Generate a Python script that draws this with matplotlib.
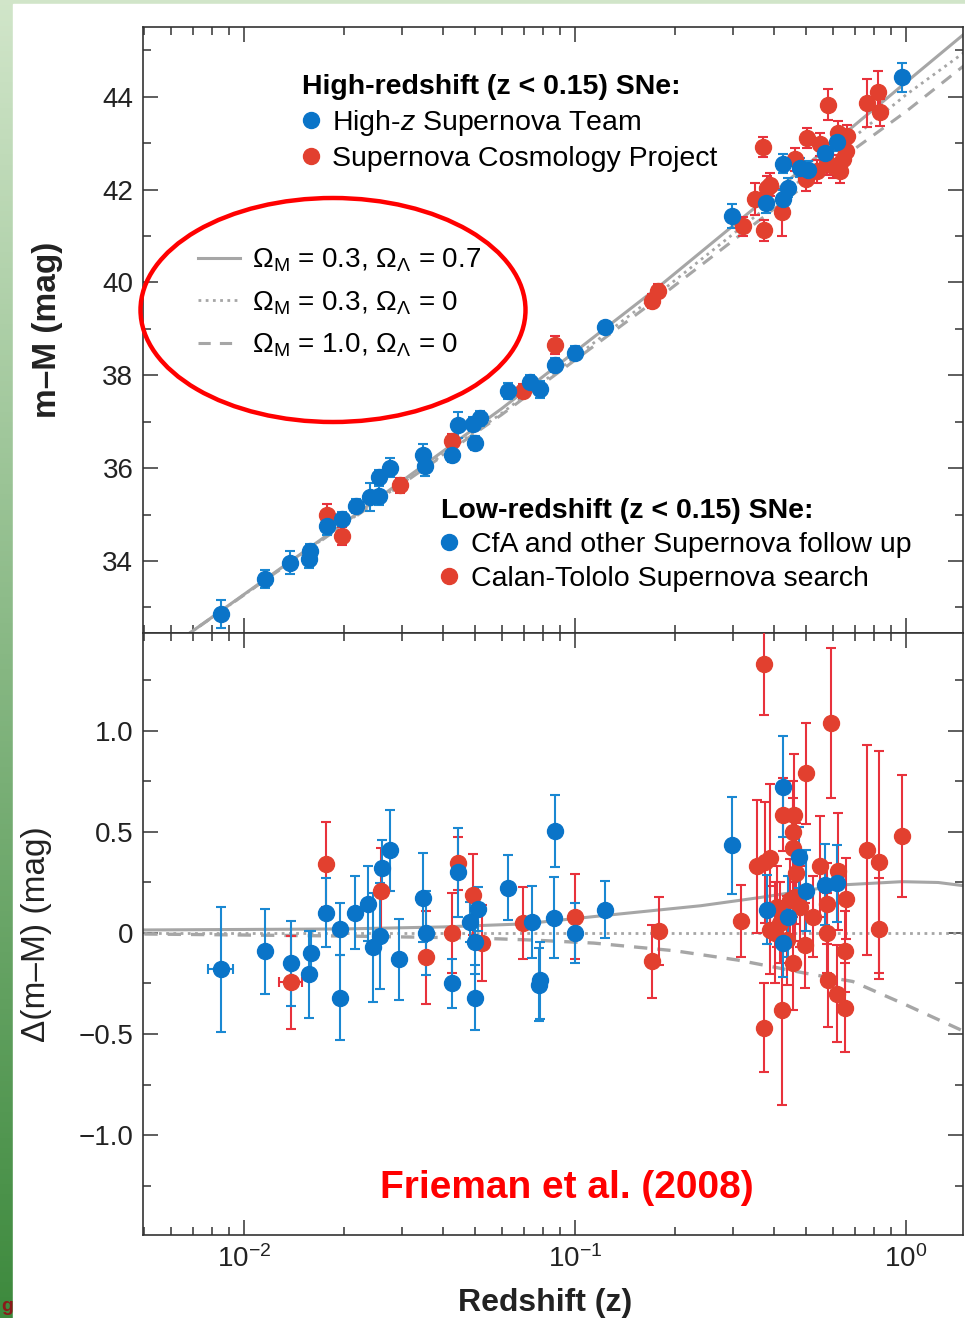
import numpy as np
import matplotlib
matplotlib.use('Agg')
import matplotlib.pyplot as plt
from matplotlib.lines import Line2D
from matplotlib.patches import Ellipse, Rectangle
from matplotlib.ticker import MultipleLocator

plt.rcParams['font.family'] = ['Liberation Sans', 'DejaVu Sans']
plt.rcParams['mathtext.fontset'] = 'custom'
plt.rcParams['mathtext.rm'] = 'Liberation Sans'
plt.rcParams['mathtext.it'] = 'Liberation Sans:italic'
plt.rcParams['mathtext.bf'] = 'Liberation Sans:bold'

# ---- model curves, top panel (distance modulus) ----
model_z = [0.0065, 0.02, 0.06, 0.18, 0.5, 1.0, 1.51]
mu_lcdm = [32.33, 34.81, 37.28, 39.92, 42.52, 44.31, 45.37]
mu_open = [32.33, 34.79, 37.18, 39.78, 42.30, 44.04, 44.97]
mu_eds = [32.33, 34.78, 37.15, 39.68, 42.12, 43.68, 44.69]

# ---- model curves, bottom panel (residual vs open model) ----
res_z_lcdm = [0.005, 0.02, 0.04, 0.07, 0.12, 0.24, 0.36, 0.64, 0.97, 1.25, 1.51]
res_lcdm = [0.015, 0.02, 0.03, 0.045, 0.085, 0.135, 0.175, 0.238, 0.254, 0.25, 0.233]
res_z_open = [0.005, 1.51]
res_open = [0.0, 0.0]
res_z_eds = [0.005, 0.02, 0.05, 0.0745, 0.114, 0.2, 0.31, 0.5, 0.69, 1.0, 1.51]
res_eds = [-0.005, -0.015, -0.025, -0.035, -0.05, -0.088, -0.134, -0.2, -0.24, -0.356, -0.49]

# ---- top panel data: m-M ----
cfa_z = [0.00852, 0.0116, 0.01378, 0.0158, 0.0157, 0.0178, 0.01972, 0.02179, 0.02402,
         0.02566, 0.02566, 0.02752, 0.03467, 0.03525, 0.04242, 0.0444, 0.0499, 0.0493,
         0.0515, 0.0629, 0.0732, 0.0784, 0.087, 0.1, 0.123]
cfa_mu = [32.86, 33.61, 33.96, 34.22, 34.04, 34.76, 34.90, 35.19, 35.37,
          35.41, 35.80, 36.01, 36.28, 36.05, 36.28, 36.92, 36.54, 36.95,
          37.07, 37.66, 37.85, 37.70, 38.22, 38.49, 39.03]
cfa_err = [0.30, 0.20, 0.25, 0.15, 0.20, 0.20, 0.15, 0.15, 0.30,
           0.20, 0.15, 0.20, 0.23, 0.22, 0.15, 0.28, 0.15, 0.15,
           0.16, 0.18, 0.15, 0.18, 0.15, 0.15, 0.12]

ct_z = [0.0178, 0.01972, 0.0295, 0.04242, 0.0695, 0.087]
ct_mu = [34.99, 34.54, 35.63, 36.59, 37.66, 38.65]
ct_err = [0.23, 0.20, 0.16, 0.15, 0.15, 0.20]

hzt_z = [0.2987, 0.3776, 0.4237, 0.441, 0.426, 0.479, 0.5072, 0.569, 0.617, 0.971]
hzt_mu = [41.43, 41.70, 41.79, 42.04, 42.56, 42.47, 42.42, 42.79, 43.02, 44.42]
hzt_err = [0.25, 0.20, 0.20, 0.20, 0.20, 0.20, 0.20, 0.20, 0.20, 0.31]

scp_z = [0.171, 0.178, 0.322, 0.3723, 0.37, 0.3489, 0.3795, 0.389, 0.4233, 0.463,
         0.4984, 0.5034, 0.55, 0.6, 0.643, 0.658, 0.6247, 0.665, 0.576, 0.5367,
         0.6319, 0.5826, 0.7609, 0.825, 0.835]
scp_mu = [39.59, 39.81, 41.21, 41.12, 42.91, 41.79, 42.04, 42.10, 41.51, 42.65,
          42.22, 43.11, 42.97, 42.50, 42.65, 42.82, 43.22, 43.15, 42.57, 42.39,
          42.39, 43.83, 43.86, 44.09, 43.66]
scp_err = [0.15, 0.15, 0.20, 0.23, 0.22, 0.34, 0.25, 0.25, 0.50, 0.25,
           0.25, 0.22, 0.25, 0.25, 0.25, 0.25, 0.25, 0.25, 0.25, 0.25,
           0.25, 0.34, 0.52, 0.47, 0.30]

# ---- bottom panel data: delta(m-M) ----
cfa_z2 = [0.00854, 0.01155, 0.01384, 0.01597, 0.01569, 0.01765, 0.01946, 0.01946,
          0.02164, 0.02374, 0.02448, 0.02606, 0.02761, 0.02576, 0.02946, 0.03482,
          0.0354, 0.04242, 0.04441, 0.05103, 0.04817, 0.04988, 0.04988, 0.06287,
          0.07398, 0.0784, 0.078, 0.087, 0.0864, 0.1, 0.1232]
cfa_d = [-0.18, -0.09, -0.15, -0.10, -0.205, 0.10, 0.02, -0.32,
         0.10, 0.145, -0.07, 0.32, 0.41, -0.015, -0.13, 0.175,
         0.0, -0.25, 0.30, 0.12, 0.055, -0.045, -0.32, 0.225,
         0.055, -0.235, -0.255, 0.505, 0.075, 0.0, 0.115]
cfa_derr = [0.31, 0.21, 0.21, 0.11, 0.215, 0.17, 0.13, 0.21,
            0.18, 0.185, 0.27, 0.14, 0.20, 0.26, 0.20, 0.22,
            0.21, 0.12, 0.22, 0.11, 0.10, 0.16, 0.16, 0.16,
            0.18, 0.19, 0.18, 0.18, 0.20, 0.15, 0.14]
cfa_zerr = [0.00074] + [0.0] * 30

ct_z2 = [0.01384, 0.01765, 0.02588, 0.0354, 0.04242, 0.04423, 0.04928, 0.05225, 0.0695, 0.1]
ct_d = [-0.245, 0.34, 0.21, -0.12, 0.0, 0.345, 0.19, -0.05, 0.05, 0.08]
ct_derr = [0.23, 0.21, 0.21, 0.23, 0.20, 0.13, 0.20, 0.19, 0.18, 0.21]
ct_zerr = [0.0011] + [0.0] * 9

hzt_z2 = [0.2974, 0.4259, 0.3795, 0.441, 0.4242, 0.475, 0.4989, 0.5692, 0.6174]
hzt_d = [0.435, 0.725, 0.115, 0.08, -0.05, 0.375, 0.21, 0.24, 0.245]
hzt_derr = [0.24, 0.25, 0.17, 0.20, 0.17, 0.15, 0.20, 0.20, 0.19]

scp_z2 = [0.1712, 0.1798, 0.3724, 0.5934, 0.4989, 0.4259, 0.4598, 0.4566, 0.4547, 0.3539,
          0.3881, 0.375, 0.3166, 0.3724, 0.423, 0.4644, 0.5498, 0.4547, 0.4954, 0.5249,
          0.576, 0.576, 0.5826, 0.6174, 0.6244, 0.6573, 0.6541, 0.6541, 0.7609, 0.8289,
          0.8289, 0.9745, 0.4067, 0.3881, 0.4162, 0.4462, 0.4785, 0.4621, 0.402, 0.436]
scp_d = [-0.14, 0.01, 1.33, 1.04, 0.79, 0.585, 0.585, 0.50, 0.42, 0.33,
         0.37, 0.35, 0.06, -0.47, -0.38, 0.295, 0.33, -0.15, -0.06, 0.08,
         0.0, 0.145, -0.235, -0.30, 0.305, 0.17, -0.09, -0.37, 0.41, 0.35,
         0.02, 0.48, 0.13, 0.015, 0.05, 0.165, 0.13, 0.18, 0.0, -0.035]
scp_derr = [0.18, 0.17, 0.25, 0.37, 0.25, 0.18, 0.30, 0.25, 0.25, 0.33,
            0.37, 0.30, 0.18, 0.22, 0.47, 0.25, 0.25, 0.23, 0.21, 0.20,
            0.20, 0.20, 0.23, 0.24, 0.29, 0.20, 0.20, 0.22, 0.52, 0.55,
            0.25, 0.30, 0.20, 0.22, 0.20, 0.20, 0.20, 0.22, 0.25, 0.22]

BLUE, BLUE_E = '#0a74c8', '#1a88d2'
RED, RED_E = '#e2402f', '#e8323c'
GRAY = '#a6a6a6'

fig = plt.figure(figsize=(9.65, 13.18), dpi=100)

# green slide background with white page
bg = fig.add_axes([0, 0, 1, 1], zorder=-10)
bg.axis('off')
t = np.linspace(0, 1, 256)[:, None]
top_c = np.array([0.82, 0.90, 0.79])
bot_c = np.array([0.24, 0.54, 0.24])
grad = (top_c * (1 - t) + bot_c * t)[:, None, :].repeat(2, axis=1)
bg.imshow(grad, aspect='auto', extent=[0, 1, 0, 1], origin='upper')
bg.add_patch(Rectangle((13 / 965, 0), 1, 1 - 4 / 1318, color='white', transform=bg.transAxes))
bg.set_xlim(0, 1)
bg.set_ylim(0, 1)

left, width = 143 / 965, 820 / 965
ax1 = fig.add_axes([left, 1 - 633 / 1318, width, 606 / 1318])
ax2 = fig.add_axes([left, 1 - 1235 / 1318, width, 602 / 1318], sharex=ax1)


def sne(ax, z, y, err, color, ecolor, zerr=None):
    ax.errorbar(z, y, yerr=err, xerr=zerr, fmt='o', ms=11.5, color=color, mec=color,
                ecolor=ecolor, elinewidth=1.5, capsize=3.6, capthick=1.5, zorder=3)


# top panel
l1, = ax1.plot(model_z, mu_lcdm, color=GRAY, lw=2.2, zorder=2)
l2, = ax1.plot(model_z, mu_open, color=GRAY, lw=2.0, ls=(0, (1.0, 1.6)), zorder=2)
l3, = ax1.plot(model_z, mu_eds, color=GRAY, lw=2.2, ls=(0, (4, 3)), zorder=2)
sne(ax1, ct_z, ct_mu, ct_err, RED, RED_E)
sne(ax1, scp_z, scp_mu, scp_err, RED, RED_E)
sne(ax1, cfa_z, cfa_mu, cfa_err, BLUE, BLUE_E)
sne(ax1, hzt_z, hzt_mu, hzt_err, BLUE, BLUE_E)

# bottom panel
ax2.plot(res_z_lcdm, res_lcdm, color=GRAY, lw=2.2, zorder=2)
ax2.plot(res_z_open, res_open, color=GRAY, lw=2.0, ls=(0, (1.0, 1.6)), zorder=2)
ax2.plot(res_z_eds, res_eds, color=GRAY, lw=2.4, ls=(0, (4, 3)), zorder=2)
sne(ax2, ct_z2, ct_d, ct_derr, RED, RED_E, ct_zerr)
sne(ax2, scp_z2, scp_d, scp_derr, RED, RED_E)
sne(ax2, cfa_z2, cfa_d, cfa_derr, BLUE, BLUE_E, cfa_zerr)
sne(ax2, hzt_z2, hzt_d, hzt_derr, BLUE, BLUE_E)

ax1.set_xscale('log')
ax1.set_xlim(0.004954, 1.486)
ax1.set_ylim(32.45, 45.5)
ax2.set_ylim(-1.495, 1.485)

ax1.set_yticks([34, 36, 38, 40, 42, 44])
ax1.yaxis.set_minor_locator(MultipleLocator(1))
ax2.set_yticks([-1.0, -0.5, 0, 0.5, 1.0], ['\u22121.0', '\u22120.5', '0', '0.5', '1.0'])
ax2.yaxis.set_minor_locator(MultipleLocator(0.25))

for ax in (ax1, ax2):
    ax.tick_params(which='both', direction='in', top=True, right=True,
                   width=1.1, color='#333333', labelsize=20, labelcolor='#222222', pad=7)
    ax.tick_params(which='major', length=11)
    ax.tick_params(which='minor', length=6)
    for s in ax.spines.values():
        s.set_color('#333333')
        s.set_linewidth(1.2)
ax1.tick_params(labelbottom=False)

ax1.set_ylabel('m\u2013M (mag)', fontsize=24, fontweight='bold', color='#222222')
ax1.yaxis.set_label_coords(-0.097, 0.5)
ax2.set_ylabel('\u0394(m\u2013M) (mag)', fontsize=24, color='#222222')
ax2.yaxis.set_label_coords(-0.111, 0.5)
ax2.set_xlabel('Redshift (z)', fontsize=23, fontweight='bold', color='#222222')
ax2.xaxis.set_label_coords(0.49, -0.088)

# legends
dot_b = Line2D([], [], marker='o', ls='none', ms=11.5, color=BLUE)
dot_r = Line2D([], [], marker='o', ls='none', ms=11.5, color=RED)
common = dict(loc='upper left', frameon=False, fontsize=20.5, borderpad=0, borderaxespad=0,
              handlelength=0.6, handletextpad=0.45, labelspacing=0.27, alignment='left',
              title_fontproperties={'weight': 'bold', 'size': 20.5})
leg1 = ax1.legend([dot_b, dot_r], ['High-$z$ Supernova Team', 'Supernova Cosmology Project'],
                  title='High-redshift (z < 0.15) SNe:', bbox_to_anchor=(0.194, 0.922), **common)
ax1.add_artist(leg1)
leg2 = ax1.legend([dot_b, dot_r], ['CfA and other Supernova follow up', 'Calan-Tololo Supernova search'],
                  title='Low-redshift (z < 0.15) SNe:', bbox_to_anchor=(0.363, 0.222), **common)
ax1.add_artist(leg2)
ax1.legend([l1, l2, l3],
           [r'$\Omega_{\rm M}$ = 0.3, $\Omega_\Lambda$ = 0.7',
            r'$\Omega_{\rm M}$ = 0.3, $\Omega_\Lambda$ = 0',
            r'$\Omega_{\rm M}$ = 1.0, $\Omega_\Lambda$ = 0'],
           loc='upper left', frameon=False, fontsize=20, borderpad=0, borderaxespad=0,
           handlelength=1.5, handletextpad=0.43, labelspacing=0.53,
           bbox_to_anchor=(0.067, 0.637))

ax2.text(0.517, 0.078, 'Frieman et al. (2008)', transform=ax2.transAxes, color='#ff0000',
         fontsize=28, fontweight='bold', ha='center', va='center')

fig.add_artist(Ellipse((333 / 965, 1 - 310 / 1318), 385 / 965, 224 / 1318,
                       transform=fig.transFigure, fill=False, ec='#ff0000', lw=3.2, zorder=10))
# small remnant letter at the slide's bottom-left corner
fig.text(0.001, 0.002, 'g', color='#8b1a1a', fontsize=14, fontweight='bold', va='bottom')

fig.savefig('out.png', dpi=100)
